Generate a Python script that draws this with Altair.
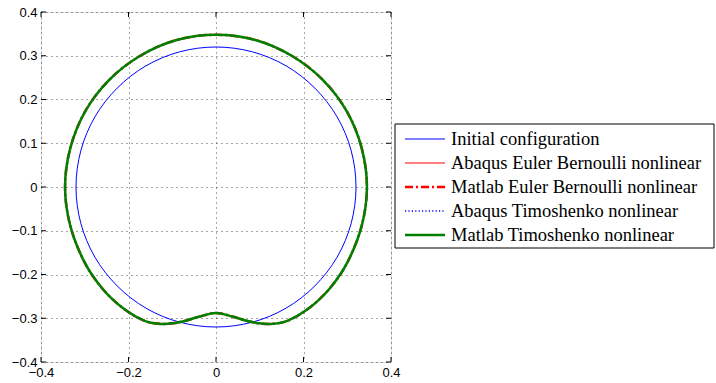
import altair as alt
import pandas as pd

# ---------------- data ----------------
series = [
    "Initial configuration",
    "Abaqus Euler Bernoulli nonlinear",
    "Matlab Euler Bernoulli nonlinear",
    "Abaqus Timoshenko nonlinear",
    "Matlab Timoshenko nonlinear",
]

# initial configuration (circle, radius ~0.32), read every 15 degrees
init_x = [0.320, 0.309, 0.277, 0.226, 0.160, 0.083, 0.000, -0.083, -0.160, -0.226, -0.277, -0.309,
          -0.320, -0.309, -0.277, -0.226, -0.160, -0.083, 0.000, 0.083, 0.160, 0.226, 0.277, 0.309]
init_y = [0.000, 0.083, 0.160, 0.226, 0.277, 0.309, 0.320, 0.309, 0.277, 0.226, 0.160, 0.083,
          0.000, -0.083, -0.160, -0.226, -0.277, -0.309, -0.320, -0.309, -0.277, -0.226, -0.160, -0.083]

# deformed shape (all four nonlinear solutions coincide at this scale)
def_x = [0.345, 0.333, 0.299, 0.244, 0.173, 0.090, 0.000, -0.090, -0.173, -0.244, -0.299, -0.333,
         -0.345, -0.333, -0.300, -0.259, -0.210, -0.163, -0.127, -0.098, -0.067, -0.037,
         0.000, 0.037, 0.067, 0.098, 0.127, 0.163, 0.210, 0.259, 0.300, 0.333]
def_y = [0.000, 0.089, 0.173, 0.245, 0.300, 0.336, 0.348, 0.336, 0.300, 0.245, 0.173, 0.089,
         0.000, -0.089, -0.173, -0.233, -0.279, -0.306, -0.313, -0.3115, -0.305, -0.296,
         -0.288, -0.296, -0.305, -0.3115, -0.313, -0.306, -0.279, -0.233, -0.173, -0.089]

x_ticks = [-0.4, -0.2, 0.0, 0.2, 0.4]
y_ticks = [-0.4, -0.3, -0.2, -0.1, 0.0, 0.1, 0.2, 0.3, 0.4]

# ---------------- styles ----------------
styles = {
    series[0]: dict(color="#0000ff", width=1.0, dash=None),
    series[1]: dict(color="#ff0000", width=1.0, dash=None),
    series[2]: dict(color="#ff0000", width=2.5, dash=[8, 3, 2, 3]),
    series[3]: dict(color="#0000ff", width=1.5, dash=[1.2, 2.2]),
    series[4]: dict(color="#008000", width=2.5, dash=None),
}

W, H = 350, 350

rows = []
for i, (x, y) in enumerate(zip(init_x, init_y)):
    rows.append(dict(series=series[0], x=x, y=y, order=i))
for s in series[1:]:
    for i, (x, y) in enumerate(zip(def_x, def_y)):
        rows.append(dict(series=s, x=x, y=y, order=i))
df = pd.DataFrame(rows)

xs = alt.Scale(domain=[-0.4, 0.4], nice=False, zero=False)
ys = alt.Scale(domain=[-0.4, 0.4], nice=False, zero=False)

common_axis = dict(
    grid=True, gridColor="black", gridDash=[1, 4], gridOpacity=0.7, gridWidth=1,
    ticks=False, domain=False, labelFont="Liberation Sans", labelFontSize=13,
    labelColor="black", labelPadding=4, labelFlush=False, labelOverlap=False,
    format=".1~f", title=None,
)
x_axis = alt.Axis(values=x_ticks, **common_axis)
y_axis = alt.Axis(values=y_ticks, **common_axis)

line_layers = []
for s in series:
    st = styles[s]
    w = 1.0 if s == series[3] else st["width"]
    kw = dict(color=st["color"], strokeWidth=w)
    if st["dash"]:
        kw["strokeDash"] = st["dash"]
    line_layers.append(
        alt.Chart(df)
        .transform_filter(alt.datum.series == s)
        .mark_line(interpolate="cardinal-closed", **kw)
        .encode(
            x=alt.X("x:Q", scale=xs, axis=x_axis),
            y=alt.Y("y:Q", scale=ys, axis=y_axis),
            order="order:Q",
        )
    )

df_xt = pd.DataFrame({"v": x_ticks})
df_yt = pd.DataFrame({"v": y_ticks})
tick_style = dict(color="black", strokeWidth=1)
tick_layers = [
    alt.Chart(df_xt).mark_rule(**tick_style).encode(
        x=alt.X("v:Q", scale=xs, axis=x_axis), y=alt.value(0), y2=alt.value(5)),
    alt.Chart(df_xt).mark_rule(**tick_style).encode(
        x=alt.X("v:Q", scale=xs, axis=x_axis), y=alt.value(H - 5), y2=alt.value(H)),
    alt.Chart(df_yt).mark_rule(**tick_style).encode(
        y=alt.Y("v:Q", scale=ys, axis=y_axis), x=alt.value(0), x2=alt.value(5)),
    alt.Chart(df_yt).mark_rule(**tick_style).encode(
        y=alt.Y("v:Q", scale=ys, axis=y_axis), x=alt.value(W - 5), x2=alt.value(W)),
]

main = alt.layer(*line_layers, *tick_layers)

# ---------------- legend ----------------
leg_df = pd.DataFrame({"series": series})
ly = alt.Y("series:N", scale=alt.Scale(type="point", domain=series, range=[127, 223], padding=0), axis=None)

box = alt.Chart(pd.DataFrame({"a": [0]})).mark_rect(
    fill="white", stroke="black", strokeWidth=1
).encode(x=alt.value(354), x2=alt.value(673), y=alt.value(112), y2=alt.value(236))

samples = []
for s in series:
    st = styles[s]
    kw = dict(color=st["color"], strokeWidth=st["width"])
    if st["dash"]:
        kw["strokeDash"] = st["dash"]
    samples.append(
        alt.Chart(leg_df).transform_filter(alt.datum.series == s).mark_rule(**kw).encode(
            x=alt.value(364), x2=alt.value(404), y=ly)
    )

labels = alt.Chart(leg_df).mark_text(
    align="left", baseline="middle", font="Liberation Serif", fontSize=18.5, color="black"
).encode(x=alt.value(410), y=ly, text="series:N")

legend = alt.layer(box, *samples, labels)

chart = (
    alt.layer(main, legend)
    .resolve_scale(y="independent")
    .properties(
        width=W, height=H, autosize="none",
        padding={"left": 41, "top": 12, "right": 325, "bottom": 21},
    )
    .configure_view(stroke="black", strokeWidth=1)
    .configure(background="white")
)

chart.save("out.html", embed_options={"renderer": "svg", "actions": False})
